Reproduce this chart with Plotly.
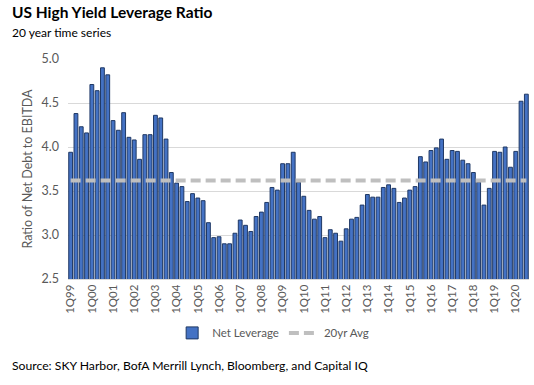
import plotly.graph_objects as go

years = [f"{y:02d}" for y in list(range(99, 100)) + list(range(0, 21))]
quarters = []
for yy in years:
    for q in range(1, 5):
        quarters.append(f"{q}Q{yy}")
quarters = quarters[:87]  # 1Q99 .. 3Q20

net_leverage = [
    3.94, 4.38, 4.23, 4.16, 4.71, 4.64, 4.90, 4.82, 4.30, 4.19,
    4.39, 4.11, 4.08, 3.86, 4.14, 4.14, 4.36, 4.33, 4.09, 3.71,
    3.59, 3.55, 3.38, 3.47, 3.42, 3.39, 3.14, 2.97, 2.98, 2.90,
    2.90, 3.02, 3.17, 3.11, 3.04, 3.21, 3.26, 3.37, 3.54, 3.51,
    3.81, 3.81, 3.94, 3.60, 3.44, 3.28, 3.18, 3.21, 2.97, 3.06,
    3.02, 2.93, 3.07, 3.18, 3.20, 3.34, 3.46, 3.43, 3.43, 3.54,
    3.57, 3.53, 3.37, 3.42, 3.51, 3.55, 3.89, 3.83, 3.96, 3.99,
    4.09, 3.86, 3.96, 3.95, 3.85, 3.81, 3.71, 3.60, 3.34, 3.53,
    3.95, 3.94, 4.00, 3.77, 3.95, 4.52, 4.60,
]
avg_20yr = [3.62] * len(quarters)
tick_labels = [q for q in quarters if q.startswith("1Q")]

FONT = "Lato, 'Open Sans', sans-serif"

fig = go.Figure()
fig.add_trace(go.Bar(
    x=quarters, y=net_leverage, name="Net Leverage",
    marker=dict(color="#4472C4", line=dict(color="#1F3864", width=1)),
))
fig.add_trace(go.Scatter(
    x=quarters, y=avg_20yr, name="20yr Avg", mode="lines",
    line=dict(color="#BFBFBF", width=4, dash="10px,5px"),
))

fig.update_layout(
    width=534, height=385,
    margin=dict(l=68, r=5, t=59, b=106, autoexpand=False),
    paper_bgcolor="white", plot_bgcolor="white",
    font=dict(family=FONT, color="#595959", size=11),
    bargap=0.28,
    showlegend=True,
    legend=dict(orientation="h", x=0.445, y=-0.245, xanchor="center", yanchor="middle",
                font=dict(size=11.5, color="#595959")),
    xaxis=dict(
        type="category", categoryorder="array", categoryarray=quarters,
        range=[-0.5, len(quarters) - 0.5], automargin=False,
        tickmode="array", tickvals=tick_labels, ticktext=tick_labels,
        tickangle=-90, showgrid=False, showline=True, linecolor="#D9D9D9", linewidth=1,
        ticks="", tickfont=dict(size=11.5, color="#595959"),
    ),
    yaxis=dict(
        range=[2.5, 5.0], dtick=0.5, tickformat=".1f", showgrid=True, automargin=False,
        gridcolor="#D9D9D9", gridwidth=1, zeroline=False, showline=False,
        ticks="", tickfont=dict(size=12.5, color="#595959"), ticklabelstandoff=8,
        title=dict(text="Ratio of Net Debt to EBITDA", font=dict(size=12.5, color="#595959"), standoff=6),
    ),
    annotations=[
        dict(text="<b>US High Yield Leverage Ratio</b>", xref="paper", yref="paper",
             x=-0.126, y=1.2136, xanchor="left", yanchor="middle", showarrow=False,
             font=dict(size=15.5, color="#000000", family=FONT)),
        dict(text="20 year time series", xref="paper", yref="paper",
             x=-0.126, y=1.1227, xanchor="left", yanchor="middle", showarrow=False,
             font=dict(size=12, color="#000000", family=FONT)),
        dict(text="Source: SKY Harbor, BofA Merrill Lynch, Bloomberg, and Capital IQ",
             xref="paper", yref="paper", x=-0.126, y=-0.391, xanchor="left", yanchor="middle",
             showarrow=False, font=dict(size=12.2, color="#000000", family=FONT)),
    ],
)

fig.write_html(
    "out.html",
    config={"displayModeBar": False},
    post_script="document.body.style.margin='0';document.body.style.padding='0';",
)
